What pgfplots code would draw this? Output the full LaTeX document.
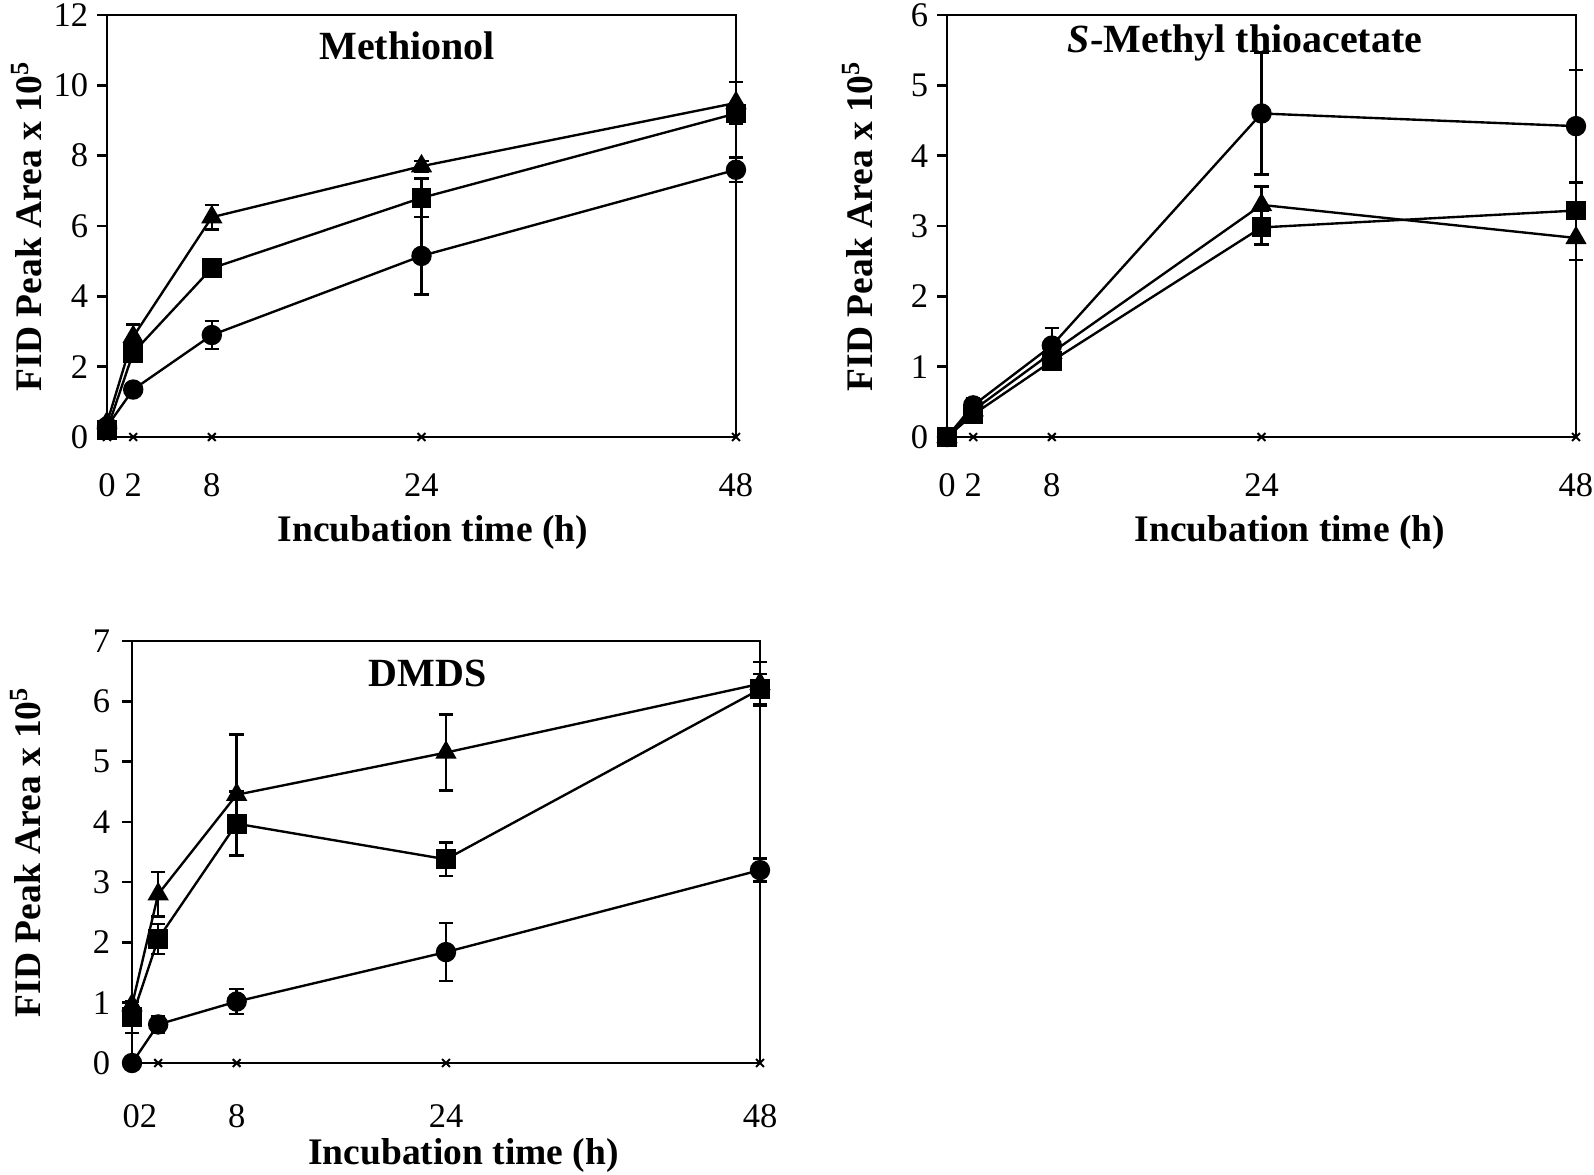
\documentclass[border=0pt]{standalone}
\usepackage{fontspec}
\setmainfont{Liberation Serif}
\usepackage{pgfplots}
\pgfplotsset{compat=1.18}
\pgfplotsset{
 panel/.style={
  scale only axis, width=251.6pt, height=168.8pt, anchor=south west,
  xmin=0, xmax=48, ymin=0,
  axis line style={line width=1pt},
  xtick={0,2,8,24,48}, xtick style={draw=none},
  tick align=outside, ytick pos=left, major tick length=4pt,
  ytick style={line width=1pt, black},
  /pgf/number format/assume math mode=true,
  tick label style={font=\fontsize{13.8}{14}\selectfont},
  label style={font=\fontsize{15}{17}\selectfont\bfseries},
  title style={font=\fontsize{16}{18}\selectfont\bfseries},
  clip=false,
 },
 ser/.style={black, line width=0.95pt, mark options={solid,fill=black},
   error bars/.cd, y dir=both, y explicit,
   error bar style={line width=1pt, black},
   error mark options={rotate=90, mark size=2.9pt, line width=1pt, black},
   /pgfplots/.cd},
 zer/.style={black, line width=0.9pt, mark=x, mark size=2.2pt, mark options={line width=0.8pt}},
}
\begin{document}
\begin{tikzpicture}
\useasboundingbox (0,0) rectangle (637.6pt,-469.6pt);
% ---------------- Methionol
\begin{axis}[panel, at={(42.8pt,-174.8pt)}, ymax=12, ytick={0,2,...,12},
  xticklabel style={yshift=-7pt},
  xlabel={Incubation time (h)},
  xlabel style={at={(axis description cs:0.518,0)}, anchor=center, yshift=-38pt},
  ylabel={FID Peak Area x 10\textsuperscript{5}},
  ylabel style={at={([xshift=-32pt]axis description cs:0,0.5)}, anchor=center},
  title={Methionol},
  title style={at={(axis description cs:0.477,1)}, anchor=center, yshift=-18.4pt}]
\addplot[zer] coordinates {(0,0) (2,0) (8,0) (24,0) (48,0)};
\addplot[ser, mark=*, mark size=3.6pt] coordinates {(0,0.3) +- (0,0) (2,1.35) +- (0,0.1) (8,2.9) +- (0,0.4) (24,5.15) +- (0,1.1) (48,7.6) +- (0,0.35)};
\addplot[ser, mark=triangle*, mark size=4pt] coordinates {(0,0.4) +- (0,0) (2,2.85) +- (0,0.35) (8,6.25) +- (0,0.35) (24,7.7) +- (0,0.15) (48,9.5) +- (0,0.6)};
\addplot[ser, mark=square*, mark size=3.5pt] coordinates {(0,0.2) +- (0,0) (2,2.4) +- (0,0.15) (8,4.8) +- (0,0.15) (24,6.8) +- (0,0.55) (48,9.2) +- (0,0.3)};
\end{axis}
% ---------------- S-Methyl thioacetate
\begin{axis}[panel, at={(378.8pt,-174.8pt)}, ymax=6, ytick={0,1,...,6},
  xticklabel style={yshift=-7pt},
  xlabel={Incubation time (h)},
  xlabel style={at={(axis description cs:0.545,0)}, anchor=center, yshift=-38pt},
  ylabel={FID Peak Area x 10\textsuperscript{5}},
  ylabel style={at={([xshift=-35.6pt]axis description cs:0,0.5)}, anchor=center},
  title={\textit{S}-Methyl thioacetate},
  title style={at={(axis description cs:0.474,1)}, anchor=center, yshift=-17.2pt}]
\addplot[zer] coordinates {(0,0) (2,0) (8,0) (24,0) (48,0)};
\addplot[ser, mark=*, mark size=3.6pt] coordinates {(0,0) +- (0,0) (2,0.45) +- (0,0.1) (8,1.3) +- (0,0.25) (24,4.6) +- (0,0.87) (48,4.42) +- (0,0.8)};
\addplot[ser, mark=triangle*, mark size=4pt] coordinates {(0,0) +- (0,0) (2,0.38) +- (0,0.1) (8,1.2) +- (0,0.1) (24,3.3) +- (0,0.26) (48,2.83) +- (0,0.31)};
\addplot[ser, mark=square*, mark size=3.5pt] coordinates {(0,0) +- (0,0) (2,0.32) +- (0,0.1) (8,1.08) +- (0,0.05) (24,2.98) +- (0,0.24) (48,3.22) +- (0,0.4)};
\end{axis}
% ---------------- DMDS
\begin{axis}[panel, at={(52.8pt,-425.2pt)}, width=251.2pt, ymax=7, ytick={0,1,...,7},
  xticklabels={\makebox[0pt]{\hspace{6.4pt}02},{},8,24,48},
  xticklabel style={yshift=-9pt},
  yticklabel style={xshift=-1.2pt},
  xlabel={Incubation time (h)},
  xlabel style={at={(axis description cs:0.528,0)}, anchor=center, yshift=-37pt},
  ylabel={FID Peak Area x 10\textsuperscript{5}},
  ylabel style={at={([xshift=-42.5pt]axis description cs:0,0.5)}, anchor=center},
  title={DMDS},
  title style={at={(axis description cs:0.471,1)}, anchor=center, yshift=-18.8pt}]
\addplot[zer] coordinates {(0,0) (2,0) (8,0) (24,0) (48,0)};
\addplot[ser, mark=*, mark size=3.6pt] coordinates {(0,0) +- (0,0) (2,0.64) +- (0,0.14) (8,1.02) +- (0,0.21) (24,1.84) +- (0,0.48) (48,3.2) +- (0,0.19)};
\addplot[ser, mark=triangle*, mark size=4pt] coordinates {(0,0.96) +- (0,0) (2,2.8) +- (0,0.37) (8,4.45) +- (0,1.0) (24,5.15) +- (0,0.63) (48,6.29) +- (0,0.36)};
\addplot[ser, mark=square*, mark size=3.5pt] coordinates {(0,0.76) +- (0,0.26) (2,2.06) +- (0,0.25) (8,3.97) +- (0,0.53) (24,3.38) +- (0,0.28) (48,6.2) +- (0,0.25)};
\end{axis}
\end{tikzpicture}
\end{document}
